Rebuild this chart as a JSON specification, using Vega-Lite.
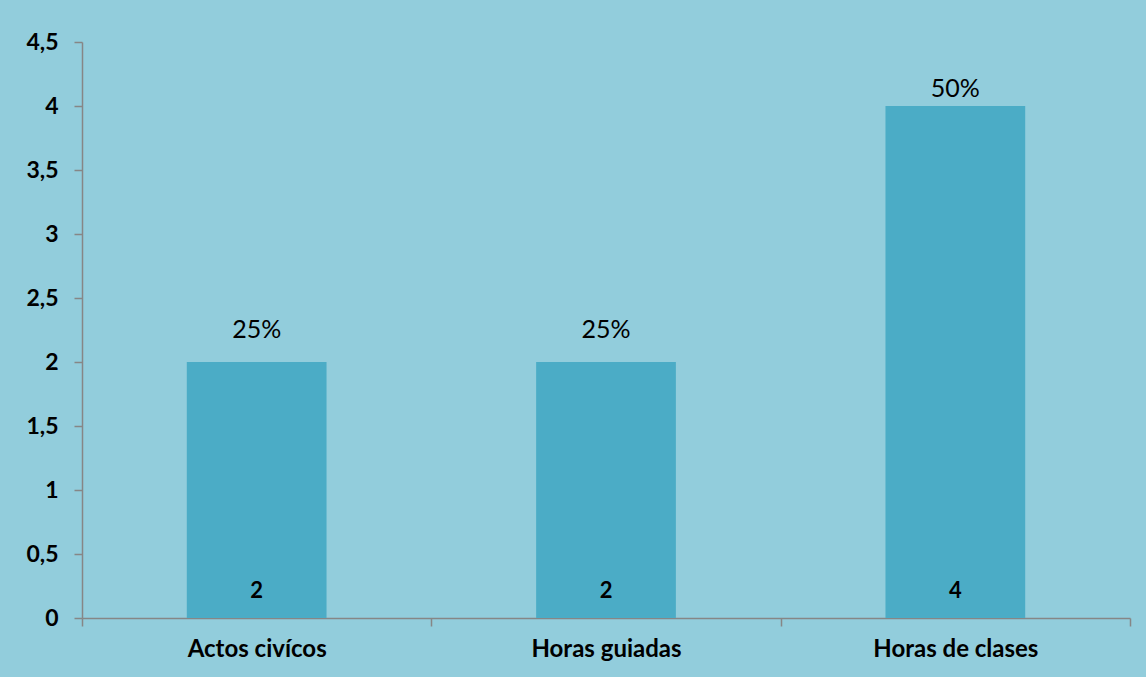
{
  "$schema": "https://vega.github.io/schema/vega-lite/v6.json",
  "width": 1048,
  "height": 576,
  "autosize": {"type": "none"},
  "padding": {"left": 82, "top": 42, "right": 16, "bottom": 59},
  "background": "#92CDDC",
  "config": {"view": {"stroke": null}, "font": "Lato"},
  "data": {
    "values": [
      {"categoria": "Actos civícos", "valor": 2, "porcentaje": "25%"},
      {"categoria": "Horas guiadas", "valor": 2, "porcentaje": "25%"},
      {"categoria": "Horas de clases", "valor": 4, "porcentaje": "50%"}
    ]
  },
  "encoding": {
    "x": {
      "field": "categoria",
      "type": "nominal",
      "sort": null,
      "title": null,
      "scale": {"paddingInner": 0, "paddingOuter": 0},
      "axis": {
        "tickBand": "extent",
        "labelAngle": 0,
        "labelFontSize": 24,
        "labelFontWeight": "bold",
        "labelColor": "#000000",
        "labelPadding": 11,
        "domainColor": "#868686",
        "tickColor": "#868686",
        "tickSize": 8,
        "domainWidth": 1.5,
        "tickWidth": 1.5
      }
    }
  },
  "layer": [
    {
      "mark": {"type": "bar", "width": {"band": 0.4}, "color": "#4BACC6"},
      "encoding": {
        "y": {
          "field": "valor",
          "type": "quantitative",
          "title": null,
          "scale": {"domain": [0, 4.5], "nice": false},
          "axis": {
            "values": [0, 0.5, 1, 1.5, 2, 2.5, 3, 3.5, 4, 4.5],
            "labelExpr": "replace(toString(datum.value), '.', ',')",
            "grid": false,
            "labelFontSize": 23,
            "labelFontWeight": "bold",
            "labelColor": "#000000",
            "labelPadding": 16,
            "domainColor": "#868686",
            "tickColor": "#868686",
            "tickSize": 8,
            "domainWidth": 1.5,
            "tickWidth": 1.5
          }
        }
      }
    },
    {
      "transform": [{"filter": "datum.valor < 4"}],
      "mark": {"type": "text", "baseline": "alphabetic", "dy": -24, "fontSize": 25, "color": "#000000"},
      "encoding": {
        "y": {"field": "valor", "type": "quantitative"},
        "text": {"field": "porcentaje"}
      }
    },
    {
      "transform": [{"filter": "datum.valor >= 4"}],
      "mark": {"type": "text", "baseline": "alphabetic", "dy": -9, "fontSize": 25, "color": "#000000"},
      "encoding": {
        "y": {"field": "valor", "type": "quantitative"},
        "text": {"field": "porcentaje"}
      }
    },
    {
      "mark": {"type": "text", "baseline": "alphabetic", "dy": -20, "fontSize": 22, "fontWeight": "bold", "color": "#000000"},
      "encoding": {
        "y": {"datum": 0},
        "text": {"field": "valor", "type": "quantitative"}
      }
    }
  ]
}
